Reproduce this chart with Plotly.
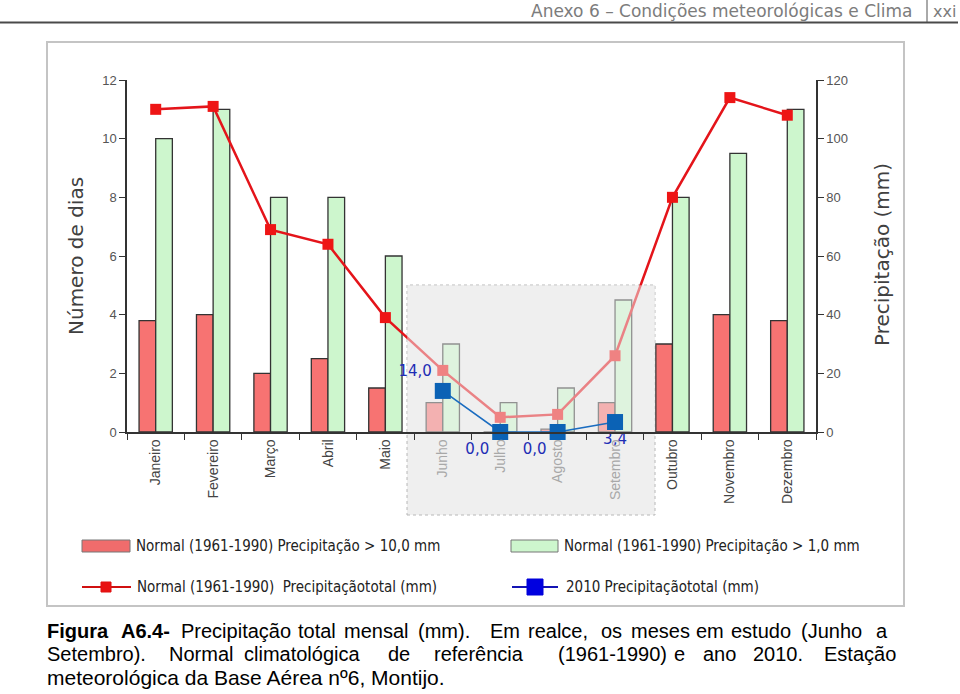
import plotly.graph_objects as go

# ---------------- data ----------------
months = ["Janeiro", "Fevereiro", "Março", "Abril", "Maio", "Junho", "Julho",
          "Agosto", "Setembro", "Outubro", "Novembro", "Dezembro"]
dias_10mm = [3.8, 4.0, 2.0, 2.5, 1.5, 1.0, 0.0, 0.1, 1.0, 3.0, 4.0, 3.8]
dias_1mm = [10, 11, 8, 8, 6, 3, 1, 1.5, 4.5, 8, 9.5, 11]
normal_total_mm = [110, 111, 69, 64, 39, 21, 5, 6, 26, 80, 114, 108]
months_2010 = ["Junho", "Julho", "Agosto", "Setembro"]
total_2010_mm = [14.0, 0.0, 0.0, 3.4]
highlight = ["Junho", "Julho", "Agosto", "Setembro"]

# ---------------- geometry helpers (pixels -> paper) ----------------
W, H = 960, 694
L, R, T, B = 127, 816, 80, 432


def px(x):
    return (x - L) / (R - L)


def py(y):
    return (B - y) / (B - T)


xi = list(range(len(months)))
idx2010 = [months.index(m) for m in months_2010]
ticktext = [f'<span style="color:#a8a8a8">{m}</span>' if m in highlight else m for m in months]
labels_2010 = [f"{v:.1f}".replace(".", ",") for v in total_2010_mm]

fig = go.Figure()

fig.add_trace(go.Bar(x=xi, y=dias_10mm, name="Normal (1961-1990) Precipitação > 10,0 mm",
                     marker=dict(color="#f77372", line=dict(color="#333333", width=1.3)),
                     showlegend=False, yaxis="y"))
fig.add_trace(go.Bar(x=xi, y=dias_1mm, name="Normal (1961-1990) Precipitação > 1,0 mm",
                     marker=dict(color="#cdf6cd", line=dict(color="#333333", width=1.3)),
                     showlegend=False, yaxis="y"))
fig.add_trace(go.Scatter(x=xi, y=normal_total_mm, mode="lines+markers", yaxis="y2",
                         line=dict(color="#e4141a", width=2.5),
                         marker=dict(symbol="square", size=11, color="#ee1515"),
                         showlegend=False))

# translucent highlight overlay (study months) -- drawn between normal line and 2010 line
hx0, hx1 = 4.38, 8.70
fig.add_trace(go.Scatter(x=[hx0, hx1, hx1, hx0, hx0], y=[-10, -10, 50, 50, -10], yaxis="y2",
                         mode="lines", fill="toself", fillcolor="rgba(240,240,240,0.5)",
                         line=dict(width=0), hoverinfo="skip", showlegend=False))

fig.add_trace(go.Scatter(x=idx2010, y=total_2010_mm, mode="lines+markers+text", yaxis="y2",
                         line=dict(color="#1a6cc0", width=1.6),
                         marker=dict(symbol="square", size=16, color="#0b62b5"),
                         text=labels_2010,
                         textposition=["top left", "bottom left", "bottom left", "bottom center"],
                         textfont=dict(family="DejaVu Sans", size=15, color="#1d2db5"),
                         cliponaxis=False, showlegend=False))

shapes = []
# page header rule
shapes.append(dict(type="line", xref="paper", yref="paper", x0=px(0), x1=px(958), y0=py(22.5), y1=py(22.5),
                   line=dict(color="#4a4a4a", width=2), layer="below"))
shapes.append(dict(type="line", xref="paper", yref="paper", x0=px(927), x1=px(927), y0=py(0), y1=py(22),
                   line=dict(color="#555555", width=1), layer="below"))
# chart frame
shapes.append(dict(type="rect", xref="paper", yref="paper", x0=px(47), x1=px(904), y0=py(606), y1=py(42),
                   line=dict(color="#c4c4c4", width=2), fillcolor="rgba(0,0,0,0)", layer="below"))
# highlight box background
shapes.append(dict(type="rect", xref="paper", yref="paper", x0=px(407), x1=px(655), y0=py(515), y1=py(285),
                   line=dict(color="#b8b8b8", width=1, dash="dot"), fillcolor="#efefef", layer="below"))

# custom legend symbols
shapes.append(dict(type="rect", xref="paper", yref="paper", x0=px(82), x1=px(130), y0=py(552), y1=py(540),
                   line=dict(color="#777777", width=1), fillcolor="#f06c6c", layer="above"))
shapes.append(dict(type="rect", xref="paper", yref="paper", x0=px(511), x1=px(558), y0=py(552), y1=py(540),
                   line=dict(color="#777777", width=1), fillcolor="#cdf6cd", layer="above"))
shapes.append(dict(type="line", xref="paper", yref="paper", x0=px(82), x1=px(131), y0=py(587), y1=py(587),
                   line=dict(color="#d01010", width=2), layer="above"))
shapes.append(dict(type="rect", xref="paper", yref="paper", x0=px(101), x1=px(111), y0=py(592), y1=py(582),
                   line=dict(color="#e01010", width=1), fillcolor="#e81212", layer="above"))
shapes.append(dict(type="line", xref="paper", yref="paper", x0=px(512), x1=px(558), y0=py(587), y1=py(587),
                   line=dict(color="#1414b4", width=2), layer="above"))
shapes.append(dict(type="rect", xref="paper", yref="paper", x0=px(527), x1=px(543), y0=py(595), y1=py(579),
                   line=dict(color="#0000d8", width=1), fillcolor="#0000e0", layer="above"))

ann = []


def text(x, y, s, size, color="#000", family="Liberation Sans", xanchor="left", angle=0):
    ann.append(dict(x=px(x), y=py(y), xref="paper", yref="paper", text=s, showarrow=False,
                    xanchor=xanchor, yanchor="middle", textangle=angle, borderpad=0,
                    font=dict(family=family, size=size, color=color)))


# header
text(913, 11, "Anexo 6 – Condições meteorológicas e Clima", 17, "#7c7c7c", "DejaVu Sans", "right")
text(932, 11, "xxi", 16, "#7c7c7c", "DejaVu Sans", "left")

# axis titles
text(76, 256, "Número de dias", 20, "#404040", "DejaVu Sans", "center", -90)
text(882, 255, "Precipitação (mm)", 20, "#404040", "DejaVu Sans", "center", -90)

# legend labels
lf = "DejaVu Sans Condensed"
text(135, 546, "Normal (1961-1990) Precipitação > 10,0 mm", 15, "#222", lf)
text(563, 546, "Normal (1961-1990) Precipitação > 1,0 mm", 15, "#222", lf)
text(136, 587, "Normal (1961-1990)  Precipitaçãototal (mm)", 15, "#222", lf)
text(565, 587, "2010 Precipitaçãototal (mm)", 15, "#222", lf)

# caption (justified lines placed word by word)
line1 = [(46, "<b>Figura</b>"), (120, "<b>A6.4-</b>"), (180, "Precipitação"), (297, "total"),
         (343, "mensal"), (417, "(mm)."), (489, "Em"), (527, "realce,"), (600, "os"),
         (630, "meses"), (695, "em"), (730, "estudo"), (800, "(Junho"), (875, "a")]
line2 = [(46, "Setembro)."), (168, "Normal"), (243, "climatológica"), (387, "de"),
         (433, "referência"), (557, "(1961-1990)"), (673, "e"), (702, "ano"), (752, "2010."),
         (823, "Estação")]
for x, w in line1:
    text(x, 631, w, 20, "#000")
for x, w in line2:
    text(x, 654, w, 20, "#000")
text(46, 677, "meteorológica da Base Aérea nº6, Montijo.", 21, "#000")

fig.update_layout(
    width=W, height=H, autosize=False,
    margin=dict(l=L, r=W - R, t=T, b=H - B, pad=0),
    paper_bgcolor="white", plot_bgcolor="rgba(0,0,0,0)",
    barmode="group", bargap=0.42, bargroupgap=0,
    showlegend=False,
    shapes=shapes, annotations=ann,
    xaxis=dict(range=[-0.5, 11.5], tickmode="array", tickvals=xi, ticktext=ticktext,
               tickangle=-90, ticks="", showgrid=False, zeroline=False,
               showline=True, linecolor="#333333", linewidth=1.5,
               tickfont=dict(family="Liberation Sans", size=14, color="#444444"),
               minor=dict(tick0=-0.5, dtick=1, ticks="outside", ticklen=6,
                          tickcolor="#333333", tickwidth=1.2, showgrid=False)),
    yaxis=dict(range=[0, 12], dtick=2, ticks="outside", ticklen=6, tickcolor="#333333",
               showgrid=False, zeroline=False, showline=True, linecolor="#333333", linewidth=1.5,
               tickfont=dict(family="Liberation Sans", size=13, color="#555555")),
    yaxis2=dict(range=[0, 120], dtick=20, overlaying="y", side="right", ticks="outside",
                ticklen=6, tickcolor="#333333", showgrid=False, zeroline=False, showline=True,
                linecolor="#333333", linewidth=1.5,
                tickfont=dict(family="Liberation Sans", size=13, color="#555555")),
)

fig.write_html("out.html", config={"displayModeBar": False},
               post_script="document.body.style.margin='0px';document.body.style.overflow='hidden';")
